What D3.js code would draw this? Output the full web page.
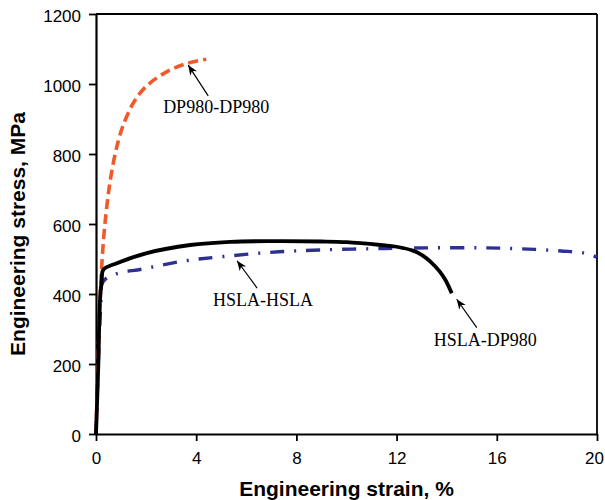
<!DOCTYPE html>
<html>
<head>
<meta charset="utf-8">
<script src="https://cdn.jsdelivr.net/npm/d3@7"></script>
<style>
  body { margin: 0; background: #fff; }
  svg { display: block; }
</style>
</head>
<body>
<div id="chart"></div>
<script>
// engineering strain (%) / stress (MPa)
const dpStrain = [0, 0.08, 0.16, 0.22, 0.3, 0.4, 0.5, 0.6, 0.75, 0.9, 1.1, 1.5, 2.0, 2.8, 3.6, 4.4];
const dpStress = [0, 200, 383, 469, 555, 630, 690, 738, 795, 840, 885, 947, 993, 1034, 1058, 1071];

const hhStrain = [0, 0.1, 0.19, 0.28, 0.83, 1.83, 3.48, 5.08, 6.96, 9, 11.6, 13.4, 15.4, 17, 18.56, 19.5, 20];
const hhStress = [0, 220, 364, 435, 458, 471, 494, 507, 519, 526, 530, 532, 532, 529, 523, 517, 505];

const hdStrain = [0, 0.09, 0.16, 0.23, 0.29, 0.83, 2.03, 3.76, 5.36, 7.08, 9, 10, 11.36, 12.0, 12.65, 13.0, 13.36, 13.7, 13.95, 14.2];
const hdStress = [0, 192, 383, 440, 469, 488, 517, 540, 549, 551, 550, 548, 540, 535, 524, 512, 492, 466, 440, 402];

const xTicks = [0, 4, 8, 12, 16, 20];
const yTicks = [0, 200, 400, 600, 800, 1000, 1200];

// label, arrow tip [strain, stress], arrow tail, text start
const notes = [
  { label: 'DP980-DP980', tip: [3.68, 1054], tail: [4.48, 966], text: [2.68, 917] },
  { label: 'HSLA-HSLA', tip: [5.63, 495], tail: [6.43, 417], text: [4.67, 366] },
  { label: 'HSLA-DP980', tip: [14.4, 385], tail: [15.2, 304], text: [13.48, 251] }
];

const width = 605, height = 500;
const margin = { top: 14, right: 8, bottom: 66, left: 96 };

const svg = d3.select('#chart').append('svg')
  .attr('width', width)
  .attr('height', height);

const x = d3.scaleLinear().domain([0, 20]).range([margin.left, width - margin.right]);
const y = d3.scaleLinear().domain([0, 1200]).range([height - margin.bottom, margin.top]);

// frame
svg.append('line')
  .attr('x1', x(0)).attr('x2', x(20)).attr('y1', y(1200)).attr('y2', y(1200))
  .attr('stroke', '#000').attr('stroke-width', 1.8);
svg.append('line')
  .attr('x1', x(20)).attr('x2', x(20)).attr('y1', y(0)).attr('y2', y(1200))
  .attr('stroke', '#000').attr('stroke-width', 1.8);

const xAxis = svg.append('g')
  .attr('transform', `translate(0,${y(0)})`)
  .call(d3.axisBottom(x).tickValues(xTicks).tickFormat(d3.format('d'))
    .tickSize(7).tickSizeOuter(0).tickPadding(11));
const yAxis = svg.append('g')
  .attr('transform', `translate(${x(0)},0)`)
  .call(d3.axisLeft(y).tickValues(yTicks).tickFormat(d3.format('d'))
    .tickSize(7).tickSizeOuter(0).tickPadding(8));

[xAxis, yAxis].forEach((g) => {
  g.select('.domain').attr('stroke', '#000').attr('stroke-width', 2.2);
  g.selectAll('.tick line').attr('stroke', '#000').attr('stroke-width', 1.8);
  g.selectAll('.tick text')
    .attr('fill', '#000')
    .style('font-family', 'Liberation Sans, Arial, sans-serif')
    .style('font-size', '17px');
});
yAxis.selectAll('.tick text').attr('dy', '0.42em');
// last x label sits a little inside the frame
xAxis.selectAll('.tick text').filter(d => d === 20).attr('dx', -3);

svg.append('text')
  .attr('x', (x(0) + x(20)) / 2)
  .attr('y', 496)
  .attr('text-anchor', 'middle')
  .style('font-family', 'Liberation Sans, Arial, sans-serif')
  .style('font-size', '21px')
  .style('font-weight', 'bold')
  .text('Engineering strain, %');

svg.append('text')
  .attr('transform', `translate(25,234) rotate(-90)`)
  .attr('text-anchor', 'middle')
  .style('font-family', 'Liberation Sans, Arial, sans-serif')
  .style('font-size', '21px')
  .style('font-weight', 'bold')
  .text('Engineering stress, MPa');

const line = d3.line()
  .x(d => x(d[0]))
  .y(d => y(d[1]))
  .curve(d3.curveCatmullRom.alpha(0.5));

const series = [
  { strain: dpStrain, stress: dpStress, color: '#f05a28', dash: '10,5', w: 3.6 },
  { strain: hhStrain, stress: hhStress, color: '#2e3192', dash: '14,10,2,10', w: 3.4 },
  { strain: hdStrain, stress: hdStress, color: '#000', dash: null, w: 3.8 }
];

series.forEach((s) => {
  svg.append('path')
    .datum(d3.zip(s.strain, s.stress))
    .attr('fill', 'none')
    .attr('stroke', s.color)
    .attr('stroke-width', s.w)
    .attr('stroke-dasharray', s.dash)
    .attr('d', line);
});

// arrow annotations
svg.append('defs').append('marker')
  .attr('id', 'arrow')
  .attr('viewBox', '0 0 10 10')
  .attr('refX', 10).attr('refY', 5)
  .attr('markerWidth', 10).attr('markerHeight', 10)
  .attr('markerUnits', 'userSpaceOnUse')
  .attr('orient', 'auto')
  .append('path')
  .attr('d', 'M0,1 L10,5 L0,9 L3,5 Z')
  .attr('fill', '#000');

notes.forEach((n) => {
  svg.append('line')
    .attr('x1', x(n.tail[0])).attr('y1', y(n.tail[1]))
    .attr('x2', x(n.tip[0])).attr('y2', y(n.tip[1]))
    .attr('stroke', '#000').attr('stroke-width', 1.2)
    .attr('marker-end', 'url(#arrow)');
  svg.append('text')
    .attr('x', x(n.text[0])).attr('y', y(n.text[1]))
    .style('font-family', 'Liberation Serif, Times New Roman, serif')
    .style('font-size', '18px')
    .text(n.label);
});
</script>
</body>
</html>
